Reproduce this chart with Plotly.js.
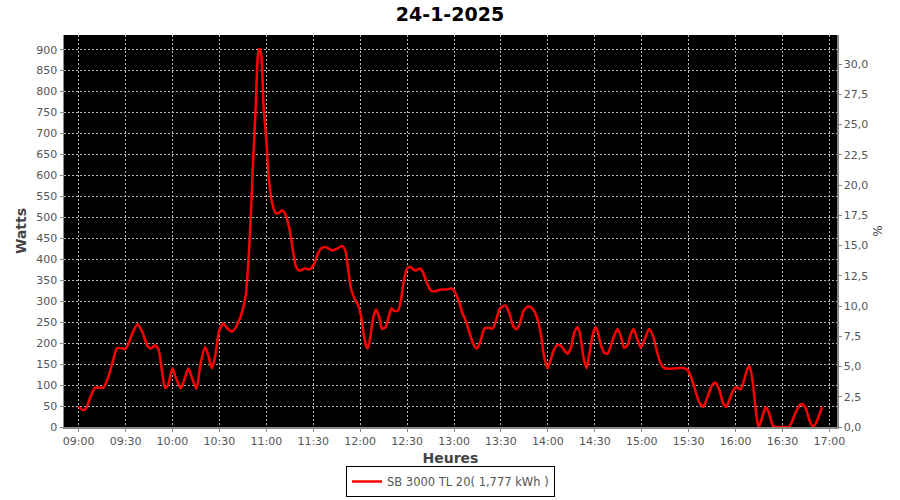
<!DOCTYPE html>
<html>
<head>
<meta charset="utf-8">
<script src="https://cdn.plot.ly/plotly-3.0.1.min.js"></script>
<style>html,body{margin:0;padding:0;background:#fff;}#chart{width:900px;height:500px;}</style>
</head>
<body>
<div id="chart"></div>
<script>
// minutes after 09:00 on 24-1-2025
const minutesAfter9 = [0,3,5,7.9,10.4,13.2,15.7,18.5,21.7,24.5,27.2,29.8,31.5,34.5,37.7,40.9,44,46.2,48.9,51,53,55.3,57,60,62.1,65.3,67.7,70.2,72.8,75.3,78.1,80.9,83,85.1,87.2,89.8,92.4,95.1,98.3,101.5,104.7,106.8,108.3,109.8,111.5,113.2,114.7,115.7,116.8,118.3,120,121.7,123.8,126,128.1,130.2,132.3,134.9,137,139.1,141.3,144.5,147.7,150.4,153,155.1,158.3,162.1,165.1,168.5,170.6,172.1,174.3,176.4,178.5,180.6,182.3,183.8,184.9,186.4,188.5,190.2,192.3,194,196.2,198.3,200,202.1,204.3,206,207.7,209.8,211.9,215.3,218.3,220.4,222.6,225.3,228.1,231.7,234.9,238.7,240.9,243.4,245.5,247.7,249.8,252.3,254.5,256.6,259.4,261.5,264.7,266.8,269.4,272.8,275.3,277.9,280,282.1,284.3,287,289.1,291.9,294,295.7,297.7,299.8,301.9,304,306.2,308.3,310.4,312.6,314.7,316.8,319,320.4,322.6,324.7,326.8,329,330.5,331.7,333.8,336,338.1,340.2,342.3,344.5,346.6,348.7,350.9,353,354.7,356.8,359.4,361.5,364.7,367.2,369.4,371.5,374.3,377.4,381.7,386,389.1,391.3,394,396.6,399.4,401.9,404.7,407.2,409.8,411.9,414,416.2,418.3,420.4,423.2,425.3,427.4,428.9,430.6,432.3,433.8,434.9,437,439.2,441.3,443.4,444.7,447.7,450.9,454,456.2,458.3,460.9,463,465.1,467.2,469.4,471.5,473.6,475.3];
const watts = [48,40,46,75,93,94,93,114,154,188,188,186,196,225,245,225,194,187,195,186,142,93,98,140,118,92,114,140,114,91,154,190,170,140,166,229,247,235,228,245,277,313,380,480,629,763,890,902,887,763,684,589,533,510,511,517,506,470,422,381,373,378,376,387,414,426,429,421,425,432,420,383,328,306,292,264,221,193,187,213,264,280,260,234,238,264,283,276,279,300,344,377,382,373,378,367,344,325,324,328,328,330,320,296,270,252,226,198,187,201,235,237,235,254,283,290,272,240,233,246,276,287,286,272,248,217,165,140,161,185,196,194,183,175,189,225,238,225,169,140,181,225,238,229,197,177,175,193,217,234,217,189,195,222,234,213,189,205,234,217,185,157,141,139,140,141,137,121,90,60,48,70,98,106,86,58,48,66,86,95,90,110,137,145,117,62,14,0,23,48,34,6,0,0,0,0,14,34,52,54,42,16,1,10,30,48];
const seriesName = "SB 3000 TL 20( 1,777 kWh )";
const chartTitle = "24-1-2025";

function pad(n){return (n<10?"0":"")+n;}
function toDate(m){
  const total = Math.round((9*60 + m)*60);
  const h = Math.floor(total/3600), mi = Math.floor((total%3600)/60), s = total%60;
  return "2025-01-24 " + pad(h)+":"+pad(mi)+":"+pad(s);
}
const times = minutesAfter9.map(toDate);

const font = "DejaVu Sans, Verdana, sans-serif";
const traces = [
  {x: times, y: watts, type: "scatter", mode: "lines", name: seriesName,
   line: {color: "#ff0000", width: 2.5, shape: "spline", smoothing: 0.6}, hoverinfo: "x+y"},
  {x: [times[0]], y: [0], yaxis: "y2", type: "scatter", mode: "lines", showlegend: false,
   hoverinfo: "skip", line: {color: "rgba(0,0,0,0)"}}
];
const layout = {
  width: 900, height: 500,
  margin: {l: 64, r: 63, t: 35, b: 73, autoexpand: false},
  paper_bgcolor: "#ffffff", plot_bgcolor: "#000000",
  separators: ",.",
  font: {family: font, size: 11, color: "#555555"},
  title: {text: "<b>" + chartTitle + "</b>", x: 0.5, xanchor: "center", y: 0.972, yanchor: "middle",
          font: {family: font, size: 19, color: "#000000"}},
  xaxis: {type: "date", range: ["2025-01-24 08:50:40", "2025-01-24 17:04:50"],
          tickformat: "%H:%M", dtick: 1800000, tick0: "2025-01-24 09:00:00",
          showgrid: true, gridcolor: "#bbbbbb", griddash: "2px,2px", gridwidth: 1,
          showline: true, linecolor: "#888888", linewidth: 1.5,
          ticks: "outside", ticklen: 3, tickcolor: "#888888",
          tickfont: {family: font, size: 11, color: "#555555"},
          title: {text: "<b>Heures</b>", standoff: 8, font: {family: font, size: 14, color: "#444444"}},
          zeroline: false},
  yaxis: {range: [0, 935], dtick: 50, tick0: 0,
          showgrid: true, gridcolor: "#bbbbbb", griddash: "2px,2px", gridwidth: 1,
          showline: true, linecolor: "#888888", linewidth: 1.5,
          ticks: "outside", ticklen: 3, tickcolor: "#888888",
          tickfont: {family: font, size: 11, color: "#555555"},
          title: {text: "<b>Watts</b>", standoff: 6, font: {family: font, size: 14, color: "#444444"}},
          zeroline: false},
  yaxis2: {overlaying: "y", side: "right", range: [0, 32.4], dtick: 2.5, tick0: 0,
           tickformat: ".1f", showgrid: false, zeroline: false,
           showline: true, linecolor: "#888888", linewidth: 1.5,
           ticks: "outside", ticklen: 3, tickcolor: "#888888",
           tickfont: {family: font, size: 11, color: "#555555"},
           title: {text: "%", standoff: 6, font: {family: font, size: 12, color: "#444444"}}},
  showlegend: true,
  legend: {x: 0.5, xanchor: "center", xref: "paper", y: 0.006, yref: "container", yanchor: "bottom", orientation: "h",
           bgcolor: "#ffffff", bordercolor: "#000000", borderwidth: 1,
           font: {family: font, size: 11.5, color: "#555555"}, itemwidth: 30}
};
Plotly.newPlot("chart", traces, layout, {displayModeBar: false, staticPlot: true});
</script>
</body>
</html>
